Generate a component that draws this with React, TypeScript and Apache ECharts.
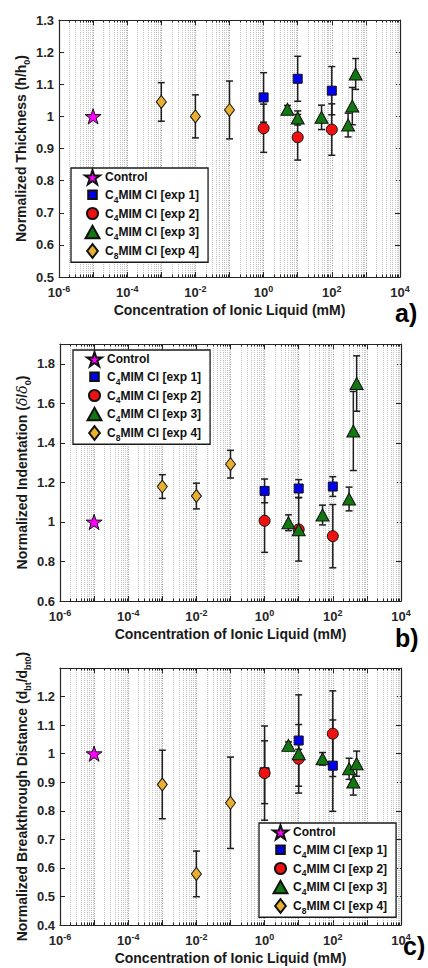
import React, { useEffect, useRef } from 'react';
import * as echarts from 'echarts';

const FONT = 'Liberation Sans, Arial, sans-serif';
const TXT = '#262626';

// ---- data (concentrations in mM) ----
const ctrlX = [1e-5];
const exp1X = [1, 10, 100];
const exp2X = [1, 10, 100];
const exp3X = [5, 10, 50, 300, 400, 500];
const exp4X = [1e-3, 1e-2, 1e-1];

// panel a: normalized thickness
const aCtrlY = [1.0];
const aExp1Y = [1.059, 1.117, 1.08];
const aExp1Err = [0.077, 0.07, 0.075];
const aExp2Y = [0.963, 0.935, 0.959];
const aExp2Err = [0.075, 0.071, 0.08];
const aExp3Y = [1.022, 0.995, 0.997, 0.973, 1.032, 1.132];
const aExp3Err = [0.012, 0.022, 0.038, 0.037, 0.058, 0.048];
const aExp4Y = [1.045, 1.0, 1.02];
const aExp4Err = [0.06, 0.067, 0.09];

// panel b: normalized indentation
const bCtrlY = [1.0];
const bExp1Y = [1.157, 1.169, 1.179];
const bExp1Err = [0.06, 0.045, 0.05];
const bExp2Y = [1.006, 0.962, 0.928];
const bExp2Err = [0.16, 0.16, 0.16];
const bExp3Y = [0.996, 0.96, 1.035, 1.116, 1.46, 1.7];
const bExp3Err = [0.04, 0.02, 0.05, 0.06, 0.2, 0.14];
const bExp4Y = [1.179, 1.131, 1.292];
const bExp4Err = [0.06, 0.065, 0.07];

// panel c: normalized breakthrough distance
const cCtrlY = [1.0];
const cExp1Y = [0.935, 1.046, 0.958];
const cExp1Err = [0.11, 0.16, 0.16];
const cExp2Y = [0.932, 0.982, 1.07];
const cExp2Err = [0.165, 0.12, 0.15];
const cExp3Y = [1.029, 1.0, 0.982, 0.947, 0.901, 0.965];
const cExp3Err = [0.012, 0.015, 0.022, 0.037, 0.046, 0.044];
const cExp4Y = [0.892, 0.579, 0.828];
const cExp4Err = [0.12, 0.08, 0.16];

// axis ticks
const xExpMin = -6;
const xExpMax = 4;
const xLabelExps = [-6, -4, -2, 0, 2, 4];
const minorMultipliers = [2, 3, 4, 5, 6, 7, 8, 9];

const seriesNames = ['Control', 'C4MIM Cl [exp 1]', 'C4MIM Cl [exp 2]', 'C4MIM Cl [exp 3]', 'C8MIM Cl [exp 4]'];
const xTitle = 'Concentration of Ionic Liquid (mM)';

const STAR = 'path://M50,0L61.2,34.5L97.6,34.5L68.2,55.9L79.4,90.5L50,69.1L20.6,90.5L31.8,55.9L2.4,34.5L38.8,34.5Z';

const markerStyles = [
  { symbol: STAR, size: 16, color: '#ff00ff', icon: STAR },
  { symbol: 'rect', size: 9, color: '#0000ee', icon: 'path://M0,0M3,3L11,3L11,11L3,11ZM14,14' },
  { symbol: 'circle', size: 11, color: '#ee1111', icon: 'path://M0,0M1.8,7A5.2,5.2,0,1,1,12.2,7A5.2,5.2,0,1,1,1.8,7ZM14,14' },
  { symbol: 'triangle', size: [13, 12], color: '#127812', icon: 'path://M0,0M0.5,12.5L7,1L13.5,12.5ZM14,14' },
  { symbol: 'diamond', size: [10, 13], color: '#e8b02e', icon: 'path://M0,0M7,0.5L12,7L7,13.5L2,7ZM14,14' },
];

const panels = [
  {
    grid: { left: 59, top: 20, width: 341, height: 257 },
    yMin: 0.5, yMax: 1.3, yStep: 0.1, showMax: true,
    yName: '{n|Normalized Thickness (h/h}{s|0}{n|)}',
    legendPos: { left: 71, top: 168 },
    tag: 'a)', tagPos: { left: 395, top: 300 },
    ctrl: aCtrlY,
    exps: [[aExp1Y, aExp1Err], [aExp2Y, aExp2Err], [aExp3Y, aExp3Err], [aExp4Y, aExp4Err]],
  },
  {
    grid: { left: 60, top: 344, width: 341, height: 257 },
    yMin: 0.6, yMax: 1.9, yStep: 0.2, showMax: false,
    yName: '{n|Normalized Indentation (}{i|δ}{n|/}{i|δ}{s|0}{n|)}',
    legendPos: { left: 73, top: 350 },
    tag: 'b)', tagPos: { left: 395, top: 625 },
    ctrl: bCtrlY,
    exps: [[bExp1Y, bExp1Err], [bExp2Y, bExp2Err], [bExp3Y, bExp3Err], [bExp4Y, bExp4Err]],
  },
  {
    grid: { left: 60, top: 668, width: 341, height: 257 },
    yMin: 0.4, yMax: 1.3, yStep: 0.1, showMax: false,
    yName: '{n|Normalized Breakthrough Distance (d}{s|bt}{n|/d}{s|bt0}{n|)}',
    legendPos: { left: 259, top: 823 },
    tag: 'c)', tagPos: { left: 403, top: 933 },
    ctrl: cCtrlY,
    exps: [[cExp1Y, cExp1Err], [cExp2Y, cExp2Err], [cExp3Y, cExp3Err], [cExp4Y, cExp4Err]],
  },
];

const expXs = [exp1X, exp2X, exp3X, exp4X];

const titleRich = {
  n: { fontSize: 14, fontWeight: 'bold', fontFamily: FONT, color: '#1a1a1a', lineHeight: 20 },
  i: { fontSize: 14, fontStyle: 'italic', fontFamily: 'DejaVu Serif, serif', color: '#1a1a1a', lineHeight: 20 },
  s: { fontSize: 9, fontWeight: 'bold', fontFamily: FONT, color: '#1a1a1a', verticalAlign: 'bottom', lineHeight: 12 },
};

function legendFormatter(name: string) {
  const m = /^C(\d)(.*)$/.exec(name);
  if (m) return `{n|C}{s|${m[1]}}{n|${m[2]}}`;
  return `{n|${name}}`;
}

function buildOption() {
  const minorXs: number[] = [];
  for (let e = xExpMin; e < xExpMax; e++) {
    for (const k of minorMultipliers) minorXs.push(Math.log10(k) + e);
  }

  const grid: any[] = [];
  const xAxis: any[] = [];
  const yAxis: any[] = [];
  const series: any[] = [];
  const legend: any[] = [];
  const graphic: any[] = [];

  panels.forEach((p, i) => {
    grid.push({ ...p.grid, containLabel: false, outerBoundsMode: 'none' });
    xAxis.push({
      type: 'value', gridIndex: i, position: 'bottom', min: xExpMin, max: xExpMax, interval: 1,
      axisLine: { show: true, onZero: false, lineStyle: { color: TXT, width: 1.2 } },
      axisTick: { show: true, inside: true, length: 5, lineStyle: { color: TXT } },
      splitLine: { show: true, lineStyle: { color: '#9a9a9a', type: [1, 1.5], width: 1 } },
      axisLabel: {
        margin: 7,
        formatter: (v: number) => (xLabelExps.indexOf(Math.round(v)) >= 0 ? `{b|10}{p|${Math.round(v)}}` : ''),
        rich: {
          b: { fontSize: 13, fontWeight: 'bold', fontFamily: FONT, color: TXT, lineHeight: 16 },
          p: { fontSize: 9, fontWeight: 'bold', fontFamily: FONT, color: TXT, verticalAlign: 'top', lineHeight: 9 },
        },
      },
      name: xTitle, nameLocation: 'middle', nameGap: 26, nameMoveOverlap: false,
      nameTextStyle: { fontSize: 14, fontWeight: 'bold', fontFamily: FONT, color: '#1a1a1a' },
    });
    xAxis.push({
      type: 'value', gridIndex: i, position: 'top', min: xExpMin, max: xExpMax, interval: 1,
      axisLine: { show: true, onZero: false, lineStyle: { color: TXT, width: 1.2 } },
      axisTick: { show: true, inside: true, length: 5, lineStyle: { color: TXT } },
      splitLine: { show: false }, axisLabel: { show: false },
    });
    yAxis.push({
      type: 'value', gridIndex: i, position: 'left', min: p.yMin, max: p.yMax, interval: p.yStep,
      axisLine: { show: true, onZero: false, lineStyle: { color: TXT, width: 1.2 } },
      axisTick: { show: true, inside: true, length: 5, lineStyle: { color: TXT } },
      splitLine: { show: false },
      axisLabel: {
        margin: 5, showMaxLabel: p.showMax, fontSize: 13, fontWeight: 'bold', fontFamily: FONT, color: TXT,
        formatter: (v: number) => String(Math.round(v * 10) / 10),
      },
      name: p.yName, nameLocation: 'middle', nameGap: 28, nameMoveOverlap: false,
      nameTextStyle: { rich: titleRich },
    });
    yAxis.push({
      type: 'value', gridIndex: i, position: 'right', min: p.yMin, max: p.yMax, interval: p.yStep,
      axisLine: { show: true, onZero: false, lineStyle: { color: TXT, width: 1.2 } },
      axisTick: { show: true, inside: true, length: 5, lineStyle: { color: TXT } },
      splitLine: { show: false }, axisLabel: { show: false },
    });

    const xi = i * 2;
    const yi = i * 2;
    // minor grid lines + minor ticks
    series.push({
      type: 'custom', name: 'minor' + i, xAxisIndex: xi, yAxisIndex: yi, silent: true, z: 1,
      data: minorXs.map((v) => [v, p.yMin]),
      encode: { x: 0, y: 1 },
      renderItem: (params: any, api: any) => {
        const cs = params.coordSys;
        const pt = api.coord([api.value(0), api.value(1)]);
        const x = Math.round(pt[0]) + 0.5;
        const top = cs.y;
        const bot = cs.y + cs.height;
        return {
          type: 'group',
          children: [
            { type: 'line', shape: { x1: x, y1: top, x2: x, y2: bot }, style: { stroke: '#c4c4c4', lineWidth: 1, lineDash: [1, 1] } },
            { type: 'line', shape: { x1: x, y1: bot, x2: x, y2: bot - 2.5 }, style: { stroke: TXT, lineWidth: 1 } },
            { type: 'line', shape: { x1: x, y1: top, x2: x, y2: top + 2.5 }, style: { stroke: TXT, lineWidth: 1 } },
          ],
        };
      },
    });
    // error bars
    p.exps.forEach(([ys, errs], k) => {
      const xs = expXs[k];
      series.push({
        type: 'custom', name: 'err' + i + '_' + k, xAxisIndex: xi, yAxisIndex: yi, silent: true, z: 3,
        data: xs.map((x, j) => [Math.log10(x), ys[j], errs[j]]),
        encode: { x: 0, y: 1 },
        renderItem: (params: any, api: any) => {
          const xv = api.value(0);
          const yv = api.value(1);
          const ev = api.value(2);
          const t = api.coord([xv, yv + ev]);
          const b = api.coord([xv, yv - ev]);
          const cap = 3.5;
          const st = { stroke: '#1e1e1e', lineWidth: 1.5 };
          return {
            type: 'group',
            children: [
              { type: 'line', shape: { x1: t[0], y1: t[1], x2: b[0], y2: b[1] }, style: st },
              { type: 'line', shape: { x1: t[0] - cap, y1: t[1], x2: t[0] + cap, y2: t[1] }, style: st },
              { type: 'line', shape: { x1: b[0] - cap, y1: b[1], x2: b[0] + cap, y2: b[1] }, style: st },
            ],
          };
        },
      });
    });
    // markers
    p.exps.forEach(([ys], k) => {
      const ms = markerStyles[k + 1];
      series.push({
        type: 'scatter', name: seriesNames[k + 1], xAxisIndex: xi, yAxisIndex: yi, z: 5,
        symbol: ms.symbol, symbolSize: ms.size,
        itemStyle: { color: ms.color, borderColor: '#111', borderWidth: 1, opacity: 1 },
        data: expXs[k].map((x, j) => [Math.log10(x), ys[j]]),
      });
    });
    series.push({
      type: 'scatter', name: seriesNames[0], xAxisIndex: xi, yAxisIndex: yi, z: 5,
      symbol: markerStyles[0].symbol, symbolSize: markerStyles[0].size, symbolKeepAspect: true,
      itemStyle: { color: markerStyles[0].color, borderColor: '#111', borderWidth: 1, opacity: 1 },
      data: ctrlX.map((x, j) => [Math.log10(x), p.ctrl[j]]),
    });

    legend.push({
      ...p.legendPos, orient: 'vertical', selectedMode: false, z: 10,
      data: seriesNames.map((n, k) => ({ name: n, icon: markerStyles[k].icon })),
      backgroundColor: '#fff', borderColor: '#1a1a1a', borderWidth: 1.3, borderRadius: 0,
      padding: [1, 9, 2, 13], itemGap: 1, itemWidth: 15, itemHeight: 15,
      formatter: legendFormatter,
      textStyle: {
        rich: {
          n: { fontSize: 12, fontWeight: 'bold', fontFamily: FONT, color: '#111', lineHeight: 18.5 },
          s: { fontSize: 8.5, fontWeight: 'bold', fontFamily: FONT, color: '#111', verticalAlign: 'bottom', lineHeight: 11 },
        },
      },
    });

    graphic.push({
      type: 'text', ...p.tagPos, z: 20,
      style: { text: p.tag, font: `bold 25px ${FONT}`, fill: '#000' },
    });
  });

  return {
    animation: false,
    backgroundColor: '#fff',
    grid, xAxis, yAxis, series, legend, graphic,
  };
}

export default function App() {
  const ref = useRef<HTMLDivElement>(null);
  useEffect(() => {
    const chart = echarts.init(ref.current as HTMLDivElement, null, { renderer: 'svg' });
    chart.setOption(buildOption() as any);
    return () => chart.dispose();
  }, []);
  return (
    <div
      ref={ref}
      style={{ position: 'absolute', left: 0, top: 0, width: 428, height: 968, background: '#fff' }}
    />
  );
}
